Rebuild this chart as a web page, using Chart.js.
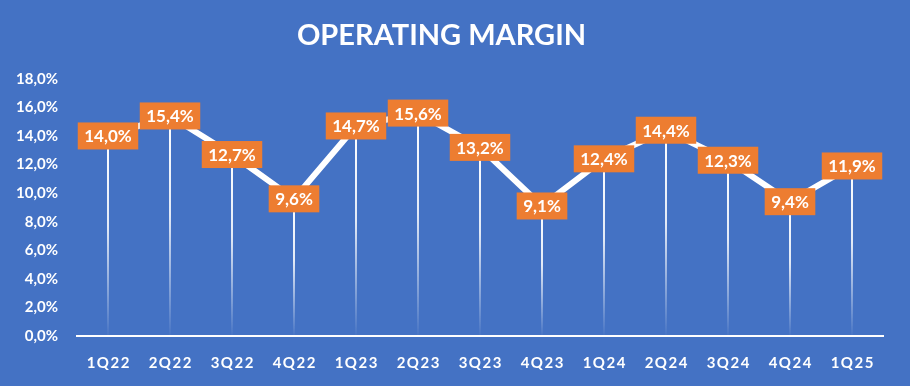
<!DOCTYPE html>
<html>
<head>
<meta charset="utf-8">
<script src="https://cdn.jsdelivr.net/npm/chart.js@4.4.1/dist/chart.umd.min.js"></script>
<style>
  html, body { margin: 0; padding: 0; background: #4472C4; }
  #wrap { width: 910px; height: 386px; }
</style>
</head>
<body>
<div id="wrap"><canvas id="chart"></canvas></div>
<script>
// Operating margin per quarter (%)
const quarters = ['1Q22', '2Q22', '3Q22', '4Q22', '1Q23', '2Q23', '3Q23', '4Q23', '1Q24', '2Q24', '3Q24', '4Q24', '1Q25'];
const margins = [14.0, 15.4, 12.7, 9.6, 14.7, 15.6, 13.2, 9.1, 12.4, 14.4, 12.3, 9.4, 11.9];
const yTicks = [0, 2, 4, 6, 8, 10, 12, 14, 16, 18];

const fmt = v => v.toFixed(1).replace('.', ',') + '%';

// Vertical white drop lines from each point down to the axis, fading out
const dropLines = {
    id: 'dropLines',
    beforeDatasetsDraw(chart) {
        const c = chart.ctx;
        const x = chart.scales.x, y = chart.scales.y;
        const bottom = y.getPixelForValue(0);
        c.save();
        c.lineWidth = 2;
        margins.forEach((v, i) => {
            const px = x.getPixelForValue(i);
            const py = y.getPixelForValue(v);
            const g = c.createLinearGradient(0, py, 0, bottom);
            g.addColorStop(0, 'rgba(255,255,255,1)');
            g.addColorStop(0.45, 'rgba(255,255,255,0.85)');
            g.addColorStop(1, 'rgba(255,255,255,0.02)');
            c.strokeStyle = g;
            c.beginPath();
            c.moveTo(px, py);
            c.lineTo(px, bottom - 1);
            c.stroke();
        });
        c.restore();
    }
};

// Orange value boxes centred on each point
const valueBoxes = {
    id: 'valueBoxes',
    afterDatasetsDraw(chart) {
        const c = chart.ctx;
        const x = chart.scales.x, y = chart.scales.y;
        c.save();
        c.font = 'bold 17px Lato';
        c.textAlign = 'center';
        c.textBaseline = 'middle';
        margins.forEach((v, i) => {
            const px = x.getPixelForValue(i);
            const py = y.getPixelForValue(v);
            const t = fmt(v);
            const w = c.measureText(t).width + 13;
            const h = 27;
            c.fillStyle = '#ED7D31';
            c.fillRect(px - w / 2, py - h / 2, w, h);
            c.fillStyle = '#FFFFFF';
            c.fillText(t, px, py + 1);
        });
        c.restore();
    }
};

// the quarter labels are spaced out a little, like the original
const spacedXLabels = {
    id: 'spacedXLabels',
    afterLayout(chart) {
        const s = chart.scales.x;
        if (s._spaced) return;
        const drawLabels = s.drawLabels.bind(s);
        s.drawLabels = function (area) {
            chart.ctx.save();
            chart.ctx.letterSpacing = '1.5px';
            // shift half a spacing so the labels stay centred
            chart.ctx.translate(0.75, 0);
            drawLabels(area);
            chart.ctx.restore();
        };
        s._spaced = true;
    }
};

new Chart(document.getElementById('chart'), {
    type: 'line',
    data: {
        labels: quarters,
        datasets: [{
            data: margins,
            borderColor: '#FFFFFF',
            borderWidth: 6,
            pointRadius: 0,
            tension: 0,
            borderJoinStyle: 'round'
        }]
    },
    options: {
        responsive: true,
        maintainAspectRatio: false,
        animation: false,
        layout: { padding: { left: 0, right: 27, top: 0, bottom: 0 } },
        plugins: {
            legend: { display: false },
            tooltip: { enabled: false },
            title: {
                display: true,
                text: 'OPERATING MARGIN',
                color: '#FFFFFF',
                font: { family: 'Lato', size: 29, weight: 'bold' },
                padding: { top: 18, bottom: 26 }
            }
        },
        scales: {
            x: {
                offset: true,
                grid: { display: false, drawTicks: false },
                border: { display: true, color: '#FFFFFF', width: 2 },
                ticks: {
                    color: '#FFFFFF',
                    font: { family: 'Lato', size: 15, weight: 'bold' },
                    padding: 18,
                    maxRotation: 0
                },
                afterFit(s) { s.height = 50; }
            },
            y: {
                min: 0,
                max: 18,
                afterBuildTicks(s) { s.ticks = yTicks.map(v => ({ value: v })); },
                grid: { display: false, drawTicks: false },
                border: { display: false },
                ticks: {
                    color: '#FFFFFF',
                    font: { family: 'Lato', size: 15, weight: 'bold' },
                    padding: 19,
                    callback: v => fmt(v)
                },
                afterFit(s) { s.width = 77; }
            }
        }
    },
    plugins: [dropLines, valueBoxes, spacedXLabels]
});
</script>
</body>
</html>
